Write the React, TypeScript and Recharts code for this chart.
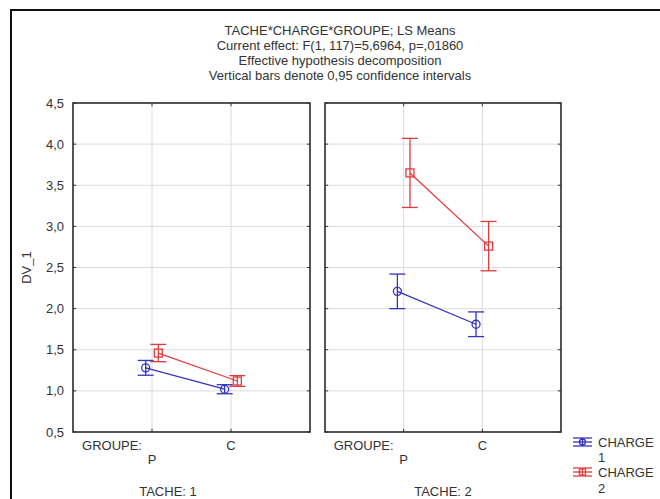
import React from 'react';
import {
  LineChart,
  Line,
  XAxis,
  YAxis,
  CartesianGrid,
  ErrorBar,
  ReferenceArea,
  ReferenceLine,
} from 'recharts';

// ---- data ----
const groups = ['P', 'C'];
const yTicks = [0.5, 1.0, 1.5, 2.0, 2.5, 3.0, 3.5, 4.0, 4.5];
const titleLines = [
  'TACHE*CHARGE*GROUPE; LS Means',
  'Current effect: F(1, 117)=5,6964, p=,01860',
  'Effective hypothesis decomposition',
  'Vertical bars denote 0,95 confidence intervals',
];
const seriesNames = ['CHARGE', 'CHARGE'];
const seriesLevels = ['1', '2'];
const tacheLabels = ['TACHE: 1', 'TACHE: 2'];

const charge1Tache1 = [1.28, 1.02];
const charge1Tache1Ci = [0.09, 0.055];
const charge2Tache1 = [1.46, 1.12];
const charge2Tache1Ci = [0.105, 0.065];

const charge1Tache2 = [2.21, 1.81];
const charge1Tache2Ci = [0.21, 0.15];
const charge2Tache2 = [3.65, 2.76];
const charge2Tache2Ci = [0.42, 0.3];

// ---- styling ----
const BLUE = '#3434bc';
const RED = '#e03c3c';
const FONT = '"Liberation Sans", Arial, sans-serif';
const DODGE = 0.08;
const X_MIN = 0;
const X_MAX = 3;
const Y_MIN = 0.5;
const Y_MAX = 4.5;
const TICK_X = 0.04; // inward tick length in x units
const TICK_Y = 0.04; // inward tick length in y units

const rows = (values: number[], ci: number[], shift: number) =>
  values.map((v, i) => ({ x: i + 1 + shift, y: v, err: ci[i] }));

const fmt = (v: number) => v.toFixed(1).replace('.', ',');

const CircleDot = (props: any) => {
  const { cx, cy } = props;
  if (cx == null || cy == null) return null;
  return <circle cx={cx} cy={cy} r={4} fill="none" stroke={BLUE} strokeWidth={1.3} />;
};

const SquareDot = (props: any) => {
  const { cx, cy } = props;
  if (cx == null || cy == null) return null;
  return (
    <rect x={cx - 4} y={cy - 4} width={8} height={8} fill="none" stroke={RED} strokeWidth={1.3} />
  );
};

const XTick = (props: any) => {
  const { x, y, payload } = props;
  const idx = Math.round(payload.value) - 1;
  const label = groups[idx];
  if (idx === 0) {
    return (
      <g>
        <text x={x - 10} y={y + 18} textAnchor="end" fontSize={13} fill="#333" fontFamily={FONT}>
          GROUPE:
        </text>
        <text x={x} y={y + 32} textAnchor="middle" fontSize={13} fill="#333" fontFamily={FONT}>
          {label}
        </text>
      </g>
    );
  }
  return (
    <text x={x} y={y + 18} textAnchor="middle" fontSize={13} fill="#333" fontFamily={FONT}>
      {label}
    </text>
  );
};

const Panel = ({
  c1,
  c1ci,
  c2,
  c2ci,
  showY,
  width,
  margin,
}: {
  c1: number[];
  c1ci: number[];
  c2: number[];
  c2ci: number[];
  showY: boolean;
  width: number;
  margin: { top: number; right: number; bottom: number; left: number };
}) => (
  <LineChart width={width} height={499} margin={margin}>
    <CartesianGrid stroke="#dcdcdc" strokeWidth={1} />
    <XAxis
      type="number"
      dataKey="x"
      domain={[X_MIN, X_MAX]}
      ticks={[1, 2]}
      axisLine={false}
      tickLine={false}
      tickSize={0}
      tickMargin={0}
      height={67}
      tick={<XTick />}
      interval={0}
    />
    <YAxis
      type="number"
      domain={[Y_MIN, Y_MAX]}
      ticks={yTicks}
      tickFormatter={fmt}
      hide={!showY}
      width={60}
      axisLine={false}
      tickLine={false}
      tickSize={0}
      tickMargin={9}
      interval={0}
      tick={{ fontSize: 13, fill: '#333', fontFamily: FONT }}
      label={
        showY
          ? {
              value: 'DV_1',
              angle: -90,
              position: 'insideLeft',
              offset: 13,
              style: { fontSize: 13, fill: '#333', fontFamily: FONT, textAnchor: 'middle' },
            }
          : undefined
      }
    />
    {yTicks.map((t) => (
      <ReferenceLine
        key={'l' + t}
        segment={[
          { x: X_MIN, y: t },
          { x: X_MIN + TICK_X, y: t },
        ]}
        stroke="#333"
        strokeWidth={1}
        ifOverflow="visible"
      />
    ))}
    {yTicks.map((t) => (
      <ReferenceLine
        key={'r' + t}
        segment={[
          { x: X_MAX - TICK_X, y: t },
          { x: X_MAX, y: t },
        ]}
        stroke="#333"
        strokeWidth={1}
        ifOverflow="visible"
      />
    ))}
    {[1, 2].map((t) => (
      <ReferenceLine
        key={'b' + t}
        segment={[
          { x: t, y: Y_MIN },
          { x: t, y: Y_MIN + TICK_Y },
        ]}
        stroke="#333"
        strokeWidth={1}
        ifOverflow="visible"
      />
    ))}
    {[1, 2].map((t) => (
      <ReferenceLine
        key={'t' + t}
        segment={[
          { x: t, y: Y_MAX - TICK_Y },
          { x: t, y: Y_MAX },
        ]}
        stroke="#333"
        strokeWidth={1}
        ifOverflow="visible"
      />
    ))}
    <ReferenceArea
      x1={X_MIN}
      x2={X_MAX}
      y1={Y_MIN}
      y2={Y_MAX}
      fill="none"
      stroke="#222"
      strokeWidth={1.5}
      ifOverflow="visible"
    />
    <Line
      data={rows(c1, c1ci, -DODGE)}
      dataKey="y"
      stroke={BLUE}
      strokeWidth={1.3}
      dot={<CircleDot />}
      isAnimationActive={false}
    >
      <ErrorBar dataKey="err" width={8} stroke={BLUE} strokeWidth={1.3} direction="y" />
    </Line>
    <Line
      data={rows(c2, c2ci, DODGE)}
      dataKey="y"
      stroke={RED}
      strokeWidth={1.3}
      dot={<SquareDot />}
      isAnimationActive={false}
    >
      <ErrorBar dataKey="err" width={8} stroke={RED} strokeWidth={1.3} direction="y" />
    </Line>
  </LineChart>
);

const LegendIcon = ({ cy, color, square }: { cy: number; color: string; square: boolean }) => (
  <g stroke={color} strokeWidth={1.3} fill="none">
    <line x1={573} x2={592} y1={cy - 4} y2={cy - 4} />
    <line x1={573} x2={592} y1={cy + 4} y2={cy + 4} />
    <line x1={573} x2={592} y1={cy} y2={cy} />
    <line x1={582.5} x2={582.5} y1={cy - 4} y2={cy + 4} />
    {square ? (
      <rect x={579.5} y={cy - 3} width={6} height={6} />
    ) : (
      <circle cx={582.5} cy={cy} r={3} />
    )}
  </g>
);

export default function App() {
  return (
    <div
      style={{
        position: 'absolute',
        left: 0,
        top: 0,
        width: 660,
        height: 499,
        background: '#fff',
        overflow: 'hidden',
        fontFamily: FONT,
      }}
    >
      <div
        style={{
          position: 'absolute',
          left: 10,
          top: 9,
          width: 800,
          height: 700,
          border: '2px solid #111',
        }}
      />
      <div style={{ position: 'absolute', left: 0, top: 0 }}>
        <Panel
          c1={charge1Tache1}
          c1ci={charge1Tache1Ci}
          c2={charge2Tache1}
          c2ci={charge2Tache1Ci}
          showY={true}
          width={330}
          margin={{ top: 103, right: 20, bottom: 0, left: 13 }}
        />
      </div>
      <div style={{ position: 'absolute', left: 320, top: 0 }}>
        <Panel
          c1={charge1Tache2}
          c1ci={charge1Tache2Ci}
          c2={charge2Tache2}
          c2ci={charge2Tache2Ci}
          showY={false}
          width={340}
          margin={{ top: 103, right: 99, bottom: 0, left: 5 }}
        />
      </div>
      <svg
        width={660}
        height={499}
        style={{ position: 'absolute', left: 0, top: 0, pointerEvents: 'none' }}
      >
        <g fontFamily={FONT} fontSize={13} fill="#333" textAnchor="middle">
          {titleLines.map((t, i) => (
            <text key={i} x={340} y={35 + i * 15}>
              {t}
            </text>
          ))}
          <text x={168} y={496}>
            {tacheLabels[0]}
          </text>
          <text x={443} y={496}>
            {tacheLabels[1]}
          </text>
        </g>
        <LegendIcon cy={442} color={BLUE} square={false} />
        <LegendIcon cy={472} color={RED} square={true} />
        <g fontFamily={FONT} fontSize={13} fill="#333">
          <text x={598} y={447}>{seriesNames[0]}</text>
          <text x={598} y={462}>{seriesLevels[0]}</text>
          <text x={598} y={477}>{seriesNames[1]}</text>
          <text x={598} y={493}>{seriesLevels[1]}</text>
        </g>
      </svg>
    </div>
  );
}
